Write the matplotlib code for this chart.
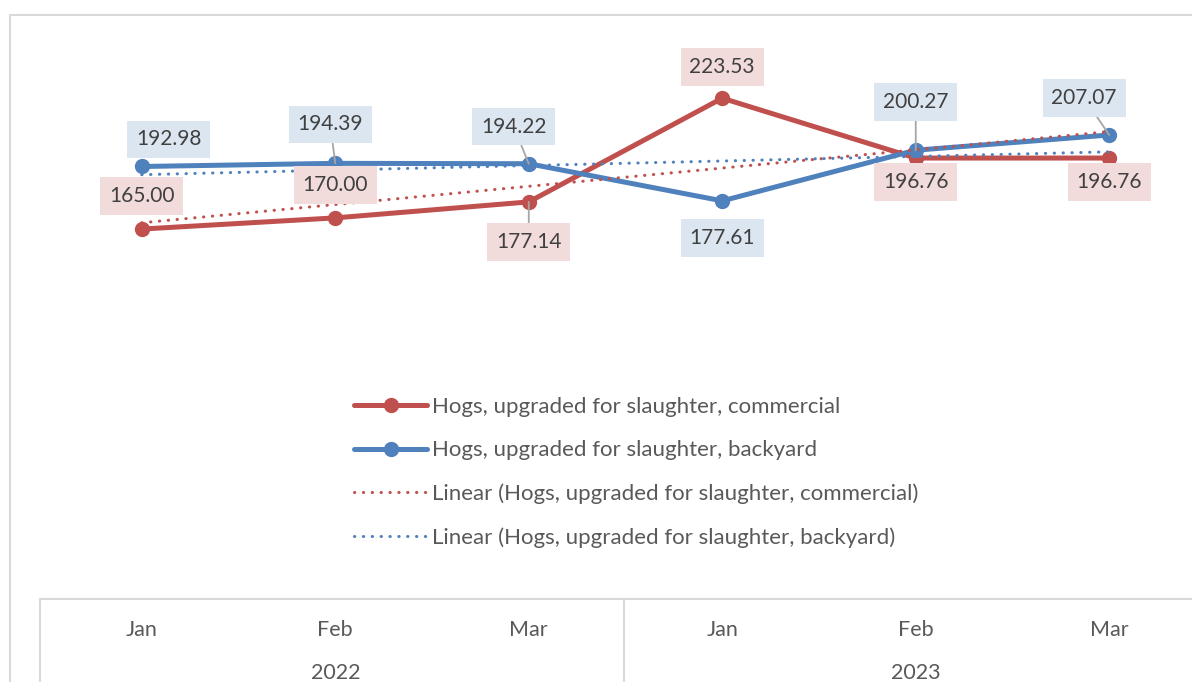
import numpy as np
import matplotlib
matplotlib.use('Agg')
import matplotlib.pyplot as plt
from matplotlib.lines import Line2D
from matplotlib.transforms import blended_transform_factory

plt.rcParams['font.family'] = ['Lato', 'DejaVu Sans']

W, H = 1192, 682

months = ['Jan', 'Feb', 'Mar', 'Jan', 'Feb', 'Mar']
years = ['2022', '2023']
commercial = [165.00, 170.00, 177.14, 223.53, 196.76, 196.76]
backyard = [192.98, 194.39, 194.22, 177.61, 200.27, 207.07]

RED = '#c0504d'
BLUE = '#4f81bd'
GRID = '#d9d9d9'

# label offsets in pixels (dx, dy) and whether a leader line is drawn
red_offsets = [(0, 33), (0, 33), (0, -40), (0, 31), (0, -24), (0, -24)]
red_leader = [False, False, True, False, False, False]
blue_offsets = [(27, 27), (-5, 39), (-15, 37), (0, -37), (0, 48), (-25, 37)]
blue_leader = [False, True, True, False, True, True]


def fx(px):
    return px / W


def fy(py):
    return 1 - py / H


fig = plt.figure(figsize=(W / 100, H / 100), dpi=100)
ax = fig.add_axes([fx(45), fy(598), (1206 - 45) / W, 559 / H])
ax.set_xlim(0.5, 6.5)
ax.set_ylim(0, 250)
ax.axis('off')

x = np.arange(1, 7)

ax.plot(x, commercial, color=RED, lw=3.6, marker='o', ms=10,
        solid_capstyle='round', label='Hogs, upgraded for slaughter, commercial', zorder=2)
ax.plot(x, backyard, color=BLUE, lw=3.6, marker='o', ms=10,
        solid_capstyle='round', label='Hogs, upgraded for slaughter, backyard', zorder=2)

cr = np.polyfit(x, commercial, 1)
cb = np.polyfit(x, backyard, 1)
ax.plot(x, np.polyval(cr, x), color=RED, lw=2.2, linestyle=(0, (0.1, 2.8)),
        dash_capstyle='round', label='Linear (Hogs, upgraded for slaughter, commercial)', zorder=3)
ax.plot(x, np.polyval(cb, x), color=BLUE, lw=2.2, linestyle=(0, (0.1, 2.8)),
        dash_capstyle='round', label='Linear (Hogs, upgraded for slaughter, backyard)', zorder=3)


def add_labels(values, offsets, leaders, bg):
    for xi, v, off, lead in zip(x, values, offsets, leaders):
        arrow = None
        if lead:
            arrow = dict(arrowstyle='-', color='#a6a6a6', lw=1.3, shrinkA=0, shrinkB=0)
        ax.annotate(f'{v:.2f}', xy=(xi, v), xytext=off, textcoords='offset pixels',
                    ha='center', va='center', fontsize=15, color='#404040',
                    bbox=dict(boxstyle='square,pad=0.42', fc=bg, ec='none'),
                    arrowprops=arrow, zorder=5)


add_labels(commercial, red_offsets, red_leader, '#f2dcdb')
add_labels(backyard, blue_offsets, blue_leader, '#dce6f1')

ax.legend(loc='upper left', bbox_to_anchor=(fx(354), fy(397)), bbox_transform=fig.transFigure,
          frameon=False, borderpad=0, borderaxespad=0, fontsize=16, labelcolor='#595959',
          handlelength=3.3, handletextpad=0.22, labelspacing=1.05, numpoints=1)

# chart border and category table
fig.add_artist(Line2D([fx(10), fx(10), fx(1200)], [fy(700), fy(15), fy(15)],
                      color=GRID, lw=1.5, transform=fig.transFigure))
fig.add_artist(Line2D([fx(40), fx(1200)], [fy(599), fy(599)],
                      color=GRID, lw=1.5, transform=fig.transFigure))
for px in (40, 624):
    fig.add_artist(Line2D([fx(px), fx(px)], [fy(599), fy(700)],
                          color=GRID, lw=1.5, transform=fig.transFigure))

trans = blended_transform_factory(ax.transData, fig.transFigure)
for xi, m in zip(x, months):
    ax.text(xi, fy(630), m, transform=trans, ha='center', va='center',
            fontsize=15.5, color='#595959')

for xi, y in zip([2, 5], years):
    ax.text(xi, fy(673), y, transform=trans, ha='center', va='center',
            fontsize=15.5, color='#595959')

fig.savefig('out.png', dpi=100)
